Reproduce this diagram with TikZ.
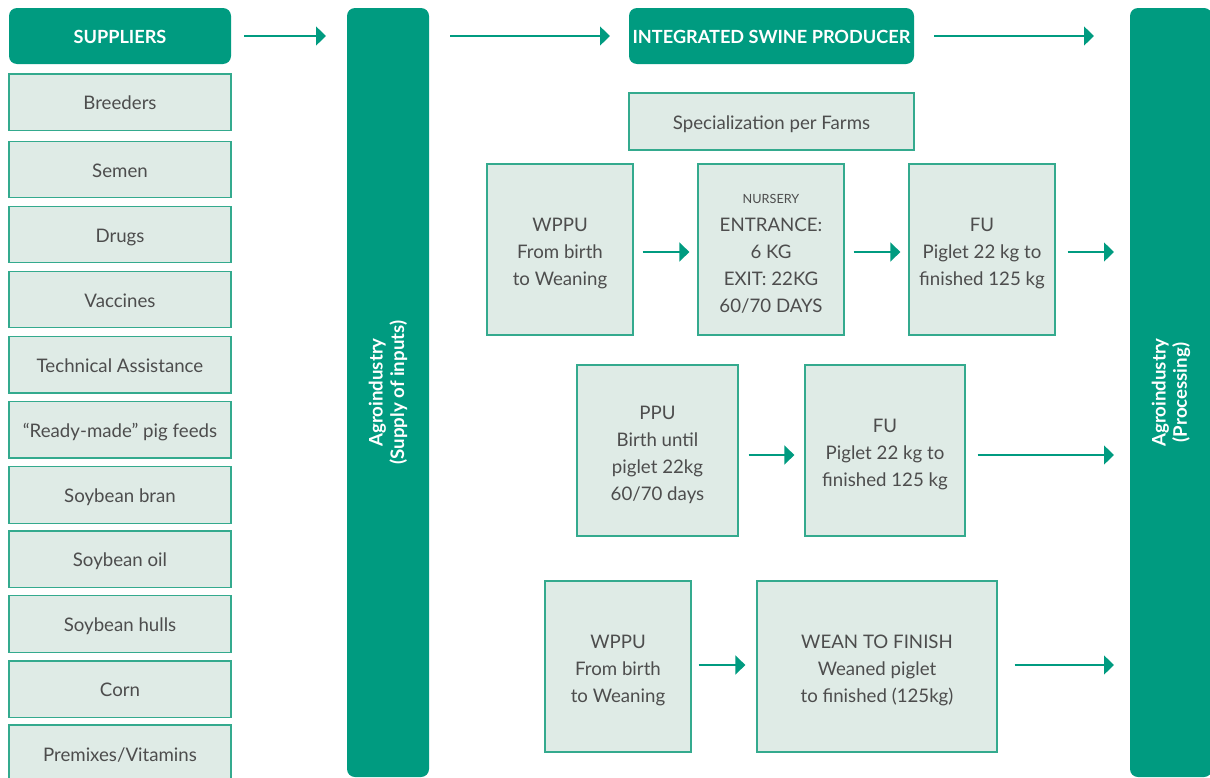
\documentclass[tikz,border=0pt]{standalone}
\usepackage{fontspec}
\setmainfont{Lato}
\usetikzlibrary{arrows.meta}
\definecolor{green}{HTML}{009B80}
\definecolor{lightfill}{HTML}{DFEBE6}
\definecolor{edge}{HTML}{34AA8E}
\definecolor{txt}{HTML}{4D4D4D}
\tikzset{
  sz/.style 2 args={minimum width=#1*0.75pt, minimum height=#2*0.75pt},
  struts/.style 2 args={execute at begin node={\rule{0pt}{#1}}, execute at end node={\rule[-#2]{0pt}{0pt}}},
  head/.style={fill=green, draw=none, rounded corners=6pt, text=white, font=\bfseries\fontsize{13.6}{16}\selectfont, inner sep=0pt, align=center, struts={14.5pt}{3.5pt}},
  bar/.style={fill=green, draw=none, rounded corners=6pt, inner sep=0pt},
  bartext/.style={rotate=90, text=white, font=\bfseries\fontsize{14}{16}\selectfont, align=center, inner sep=0pt},
  lbox/.style={fill=lightfill, draw=edge, line width=0.9pt, text=txt, font=\fontsize{14}{20.25}\selectfont, inner sep=0pt, align=center, struts={15.1pt}{3.5pt}},
  mltext/.style={text=txt, font=\fontsize{14}{20.25}\selectfont, inner sep=0pt, align=center, yshift=-3pt},
  ml/.style={label={[mltext]center:{#1}}},
  arr/.style={draw=green, line width=2pt, -{Triangle[length=7.5pt,width=14pt]}},
}
\begin{document}
\begin{tikzpicture}[x=0.75pt,y=-0.75pt]
\useasboundingbox (0,0) rectangle (1210,778);
\clip (0,0) rectangle (1210,778);
% headers
\node[head, sz={222}{56}] (sup) at (120,36) {SUPPLIERS};
\node[head, sz={285}{56}] (isp) at (771.5,36) {INTEGRATED SWINE PRODUCER};
% bars
\node[bar, sz={82}{769}] (ag1) at (388,392.5) {};
\node[bartext] (ag1t) at (388,392.5) {Agroindustry\\(Supply of inputs)};
\node[bar, sz={82}{769}] (ag2) at (1171,392.5) {};
\node[bartext] (ag2t) at (1171,392.5) {Agroindustry\\(Processing)};
% supplier boxes
\node[lbox, sz={222}{56.5}] (s1) at (120,102.25) {Breeders};
\node[lbox, sz={222}{56.5}] (s2) at (120,169.35) {Semen};
\node[lbox, sz={222}{56.5}] (s3) at (120,234.45) {Drugs};
\node[lbox, sz={222}{56.5}] (s4) at (120,299.55) {Vaccines};
\node[lbox, sz={222}{56.5}] (s5) at (120,364.65) {Technical Assistance};
\node[lbox, sz={222}{56.5}] (s6) at (120,429.75) {“Ready-made” pig feeds};
\node[lbox, sz={222}{56.5}] (s7) at (120,494.85) {Soybean bran};
\node[lbox, sz={222}{56.5}] (s8) at (120,559.15) {Soybean oil};
\node[lbox, sz={222}{56.5}] (s9) at (120,624.05) {Soybean hulls};
\node[lbox, sz={222}{56.5}] (s10) at (120,689.15) {Corn};
\node[lbox, sz={222}{57}] (s11) at (120,753.5) {Premixes/Vitamins};
% specialization
\node[lbox, sz={285}{57}] (spec) at (771.5,121.5) {Specialization per Farms};
% row 1
\node[lbox, sz={146}{171}, ml={WPPU\\From birth\\to Weaning}] (r1a) at (560,249.5) {};
\node[lbox, sz={146}{171}, label={[mltext, yshift=-0.2pt]center:{{\fontsize{9.5}{13}\selectfont NURSERY}\\[0.5pt]ENTRANCE:\\6 KG\\EXIT: 22KG\\60/70 DAYS}}] (r1b) at (771,249.5) {};
\node[lbox, sz={146}{171}, ml={FU\\Piglet 22 kg to\\finished 125 kg}] (r1c) at (982,249.5) {};
% row 2
\node[lbox, sz={161}{171}, ml={PPU\\Birth until\\piglet 22kg\\60/70 days}] (r2a) at (657.5,450.5) {};
\node[lbox, sz={160}{171}, ml={FU\\Piglet 22 kg to\\finished 125 kg}] (r2b) at (885,450.5) {};
% row 3
\node[lbox, sz={146}{171}, ml={WPPU\\From birth\\to Weaning}] (r3a) at (618,666.5) {};
\node[lbox, sz={240}{171}, ml={WEAN TO FINISH\\Weaned piglet\\to finished (125kg)}] (r3b) at (877,666.5) {};
% arrows
\coordinate (e1) at (326,36);
\coordinate (b1) at (450,36);
\coordinate (e2) at (610,36);
\coordinate (e3) at (1094,36);
\coordinate (e4) at (1114,252);
\coordinate (e5) at (1114,455);
\coordinate (e6) at (1114,665);
\draw[arr] (sup.east) ++(13,0) -- (e1);
\draw[arr] (b1) -- (e2);
\draw[arr] (isp.east) ++(20,0) -- (e3);
\draw[arr] ([xshift=9*0.75pt,yshift=-2.5*0.75pt]r1a.east) -- ([xshift=-8*0.75pt,yshift=-2.5*0.75pt]r1b.west);
\draw[arr] ([xshift=9*0.75pt,yshift=-2.5*0.75pt]r1b.east) -- ([xshift=-8*0.75pt,yshift=-2.5*0.75pt]r1c.west);
\draw[arr] ([xshift=12*0.75pt,yshift=-2.5*0.75pt]r1c.east) -- (e4);
\draw[arr] ([xshift=10*0.75pt,yshift=-4.5*0.75pt]r2a.east) -- ([xshift=-10*0.75pt,yshift=-4.5*0.75pt]r2b.west);
\draw[arr] ([xshift=12*0.75pt,yshift=-4.5*0.75pt]r2b.east) -- (e5);
\draw[arr] ([xshift=7*0.75pt,yshift=1.5*0.75pt]r3a.east) -- ([xshift=-11*0.75pt,yshift=1.5*0.75pt]r3b.west);
\draw[arr] ([xshift=17*0.75pt,yshift=1.5*0.75pt]r3b.east) -- (e6);
\end{tikzpicture}
\end{document}
